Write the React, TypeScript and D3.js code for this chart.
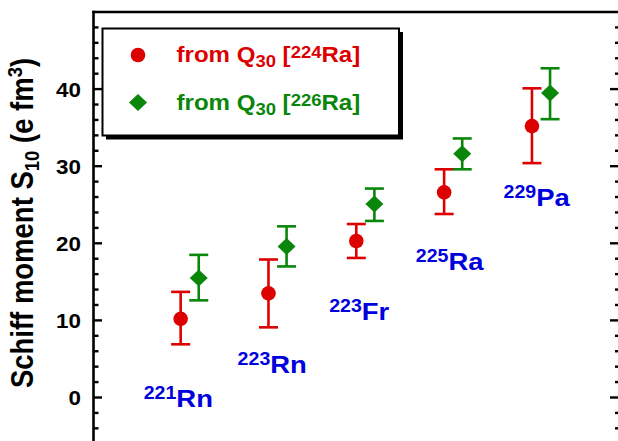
import React from "react";
import * as d3 from "d3";

// ---- data ----
const nuclei = ["221Rn", "223Rn", "223Fr", "225Ra", "229Pa"];
const massNumbers = ["221", "223", "223", "225", "229"];
const elements = ["Rn", "Rn", "Fr", "Ra", "Pa"];

const ra224Value = [10.2, 13.5, 20.3, 26.6, 35.2];
const ra224Upper = [13.7, 17.9, 22.5, 29.6, 40.1];
const ra224Lower = [6.9, 9.1, 18.1, 23.8, 30.4];

const ra226Value = [15.5, 19.6, 25.1, 31.6, 39.5];
const ra226Upper = [18.5, 22.2, 27.1, 33.6, 42.7];
const ra226Lower = [12.6, 17.0, 22.9, 29.6, 36.1];

// label anchor positions in data units (x: category offset, y: value)
const labelXOffset = [-0.13, -0.06, -0.07, -0.04, -0.05];
const labelYValue = [-1.2, 3.2, 10.0, 16.5, 24.8];

const yMajorTicks = [0, 10, 20, 30, 40];
const yAllTicks = d3.range(-10, 50, 2);

const RED = "#dd0000";
const GREEN = "#0a860a";
const BLUE = "#0000dd";
const FONT = "'Liberation Sans', Arial, Helvetica, sans-serif";
const SX = 1.12;

export default function App() {
  const W = 618, H = 441;
  const left = 93.5, top = 12, right = 619.5;
  const y = d3.scaleLinear().domain([-10, 50]).range([474.6, top]);
  const x = d3.scaleLinear().domain([0, 4]).range([189.7, 541]);
  const dOff = 0.103;
  const cap = 9.5;

  const errBar = (cx: number, lo: number, hi: number, color: string, key: string) => (
    <g key={key} stroke={color} strokeWidth={2.6} fill="none">
      <line x1={cx} x2={cx} y1={y(lo)} y2={y(hi)} />
      <line x1={cx - cap} x2={cx + cap} y1={y(lo)} y2={y(lo)} />
      <line x1={cx - cap} x2={cx + cap} y1={y(hi)} y2={y(hi)} />
    </g>
  );

  const diamond = (cx: number, cy: number) =>
    `M${cx},${cy - 8.5} L${cx + 9},${cy} L${cx},${cy + 8.5} L${cx - 9},${cy} Z`;

  return (
    <svg
      width={W}
      height={H}
      style={{ position: "absolute", left: 0, top: 0, background: "#fff" }}
      fontFamily={FONT}
      fontWeight="bold"
    >
      <rect x={0} y={0} width={W} height={H} fill="#fff" />

      {/* ticks */}
      {yAllTicks.map((t) => {
        const major = t % 10 === 0;
        const yy = y(t);
        return (
          <g key={"t" + t} stroke="#000" strokeWidth={2.4}>
            <line x1={left} x2={left + (major ? 8.5 : 5)} y1={yy} y2={yy} />
            <line x1={right} x2={right - (major ? 9.5 : 4.5)} y1={yy} y2={yy} />
          </g>
        );
      })}
      {/* frame */}
      <line x1={left} x2={left} y1={top - 1.2} y2={H + 5} stroke="#000" strokeWidth={2.6} />
      <line x1={right} x2={right} y1={top - 1.2} y2={H + 5} stroke="#000" strokeWidth={2.6} />
      <line x1={left - 1.2} x2={right + 2} y1={top} y2={top} stroke="#000" strokeWidth={2.6} />

      {/* tick labels */}
      {yMajorTicks.map((t) => (
        <g key={"l" + t} transform={`translate(81,${y(t) + 7.5}) scale(${SX},1)`}>
          <text x={0} y={0} fontSize={20} textAnchor="end" fill="#000">
            {t}
          </text>
        </g>
      ))}

      {/* axis title */}
      <g transform={`translate(33,223) scale(${SX},1) rotate(-90)`}>
        <text x={0} y={0} fontSize={27.5} textAnchor="middle" fill="#000">
          Schiff moment S
          <tspan fontSize={18.5} dy={5}>10</tspan>
          <tspan dy={-5}> (e fm</tspan>
          <tspan fontSize={18.5} dy={-10}>3</tspan>
          <tspan dy={10}>)</tspan>
        </text>
      </g>

      {/* legend */}
      <rect x={106} y={32} width={297} height={107.5} fill="#000" />
      <rect x={102.5} y={28.5} width={296.5} height={107} fill="#fff" stroke="#000" strokeWidth={2} />
      <circle cx={138} cy={55} r={7.3} fill={RED} />
      <path d={diamond(138, 102.5)} fill={GREEN} />
      <g transform={`translate(176.5,62) scale(${SX},1)`}>
        <text x={0} y={0} fontSize={21.5} fill={RED}>
          from Q<tspan fontSize={16.5} dy={5}>30</tspan>
          <tspan dy={-5}> [</tspan>
          <tspan fontSize={16.5} dy={-4}>224</tspan>
          <tspan dy={4}>Ra]</tspan>
        </text>
      </g>
      <g transform={`translate(176.5,110) scale(${SX},1)`}>
        <text x={0} y={0} fontSize={21.5} fill={GREEN}>
          from Q<tspan fontSize={16.5} dy={5}>30</tspan>
          <tspan dy={-5}> [</tspan>
          <tspan fontSize={16.5} dy={-4}>226</tspan>
          <tspan dy={4}>Ra]</tspan>
        </text>
      </g>

      {/* error bars and markers */}
      {nuclei.map((n, i) => {
        const xr = x(i - dOff);
        const xg = x(i + dOff);
        return (
          <g key={n}>
            {errBar(xr, ra224Lower[i], ra224Upper[i], RED, n + "r")}
            {errBar(xg, ra226Lower[i], ra226Upper[i], GREEN, n + "g")}
            <circle cx={xr} cy={y(ra224Value[i])} r={7.3} fill={RED} />
            <path d={diamond(xg, y(ra226Value[i]))} fill={GREEN} />
          </g>
        );
      })}

      {/* nucleus labels */}
      {nuclei.map((n, i) => (
        <g key={"n" + n} transform={`translate(${x(i + labelXOffset[i])},${y(labelYValue[i])}) scale(${SX},1)`}>
          <text x={0} y={0} fontSize={24.5} textAnchor="middle" fill={BLUE}>
            <tspan fontSize={17.5} dy={-8}>{massNumbers[i]}</tspan>
            <tspan dy={8}>{elements[i]}</tspan>
          </text>
        </g>
      ))}
    </svg>
  );
}
